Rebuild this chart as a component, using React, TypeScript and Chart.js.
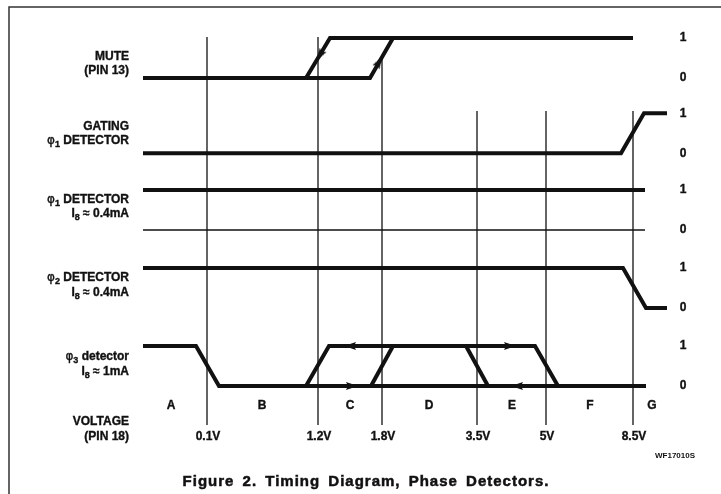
import { useEffect, useRef } from "react";
import { Chart, registerables } from "chart.js";

Chart.register(...registerables);

// ---------------- DATA ----------------
// Horizontal axis: position along the pin-18 voltage sweep (arbitrary sweep units).
const boundaryVolts = ["0.1V", "1.2V", "1.8V", "3.5V", "5V", "8.5V"];
const boundaryAt = [64, 175, 239, 334, 403, 490];
const regionNames = ["A", "B", "C", "D", "E", "F", "G"];
const regionAt = [28, 119, 207, 286, 369, 447, 509];
const levelTicks = ["0", "1"];

// Row captions (use "_" for a subscript character)
const rowCaptions: string[][] = [
  ["MUTE", "(PIN 13)"],
  ["GATING", "φ_1 DETECTOR"],
  ["φ_1 DETECTOR", "I_8 ≈ 0.4mA"],
  ["φ_2 DETECTOR", "I_8 ≈ 0.4mA"],
  ["φ_3 detector", "I_8 ≈ 1mA"],
];
const axisCaption = ["VOLTAGE", "(PIN 18)"];

// Logic traces: sweep position + logic level (0/1)
const muteUpX = [0, 227, 250];
const muteUpLvl = [0, 0, 1];
const muteDownX = [163, 187, 490];
const muteDownLvl = [0, 1, 1];
const gatingX = [0, 478, 501, 524];
const gatingLvl = [0, 0, 1, 1];
const phi1HighX = [0, 502];
const phi1HighLvl = [1, 1];
const phi1LowX = [0, 502];
const phi1LowLvl = [0, 0];
const phi2X = [0, 480, 503, 524];
const phi2Lvl = [1, 1, 0, 0];
const phi3MainX = [0, 53, 76, 503];
const phi3MainLvl = [1, 1, 0, 0];
const phi3LoopX = [163, 186, 392, 415];
const phi3LoopLvl = [0, 1, 1, 0];
const phi3RiseX = [228, 250];
const phi3RiseLvl = [0, 1];
const phi3FallX = [323, 345];
const phi3FallLvl = [1, 0];

// Direction arrows (row index, sweep position, level, heading in degrees)
const arrowRow = [0, 0, 4, 4, 4, 4];
const arrowX = [177, 236, 207, 209, 367, 374];
const arrowLvl = [0.57, 0.4, 1, 0, 1, 0];
const arrowDir = [210, 30, 270, 90, 90, 270];

// ---------------- LAYOUT ----------------
const X_MIN = 0;
const X_MAX = 524;
const Y_MIN = -0.975;
const Y_MAX = 8.725;
const ROW_BASE = [7.7, 5.82, 3.9, 1.95, 0];
const BOUNDARY_TOP = [8.725, 8.725, 8.2, 6.875, 6.875, 6.875];
const CAPTION_X = -14;
const CAPTION_Y = [
  [8.225, 7.875],
  [6.475, 6.125],
  [4.65, 4.3],
  [2.7, 2.325],
  [0.725, 0.35],
];
const AXIS_CAPTION_Y = [-0.9, -1.275];
const LEVEL_TICK_X = 540;
const REGION_Y = -0.5;
const VOLT_Y = -1.275;

const INK = "#111";
const BOLD = 'bold 12px "Liberation Sans", Arial, sans-serif';
const SUB = 'bold 9px "Liberation Sans", Arial, sans-serif';
const PHI = '12px "DejaVu Sans", sans-serif';

function pts(row: number, xs: number[], lv: number[]) {
  return xs.map((x, i) => ({ x, y: ROW_BASE[row] + lv[i] }));
}

function makeArrow() {
  const c = document.createElement("canvas");
  c.width = 8;
  c.height = 12;
  const g = c.getContext("2d")!;
  g.fillStyle = INK;
  g.beginPath();
  g.moveTo(4, 0);
  g.lineTo(8, 12);
  g.lineTo(4, 10);
  g.lineTo(0, 12);
  g.closePath();
  g.fill();
  return c;
}

type Seg = { t: string; f: string; dy: number };
function parseRich(s: string): Seg[] {
  const segs: Seg[] = [];
  let buf = "";
  const flush = () => {
    if (buf) segs.push({ t: buf, f: BOLD, dy: 0 });
    buf = "";
  };
  for (let i = 0; i < s.length; i++) {
    const ch = s[i];
    if (ch === "_" && i + 1 < s.length) {
      flush();
      segs.push({ t: s[i + 1], f: SUB, dy: 4 });
      i++;
    } else if (ch === "φ") {
      flush();
      segs.push({ t: ch, f: PHI, dy: 0 });
    } else buf += ch;
  }
  flush();
  return segs;
}

function ink(ctx: CanvasRenderingContext2D, t: string, x: number, y: number) {
  ctx.fillText(t, x, y);
  ctx.strokeText(t, x, y);
}

function drawRightAligned(ctx: CanvasRenderingContext2D, s: string, xr: number, y: number) {
  const segs = parseRich(s);
  let total = 0;
  const widths = segs.map((sg) => {
    ctx.font = sg.f;
    const w = ctx.measureText(sg.t).width;
    total += w;
    return w;
  });
  let x = xr - total;
  ctx.textAlign = "left";
  segs.forEach((sg, i) => {
    ctx.font = sg.f;
    ink(ctx, sg.t, x, y + sg.dy);
    x += widths[i];
  });
}

const textPlugin = {
  id: "timingText",
  beforeDraw(chart: any) {
    const ctx = chart.ctx as CanvasRenderingContext2D;
    ctx.save();
    ctx.fillStyle = "#fff";
    ctx.fillRect(0, 0, chart.width, chart.height);
    ctx.strokeStyle = "#333";
    ctx.lineWidth = 1.5;
    ctx.beginPath();
    ctx.moveTo(9, 494);
    ctx.lineTo(9, 7);
    ctx.lineTo(721, 7);
    ctx.stroke();
    ctx.restore();
  },
  afterDraw(chart: any) {
    const ctx = chart.ctx as CanvasRenderingContext2D;
    const xs = chart.scales.x;
    const ys = chart.scales.y;
    ctx.save();
    ctx.fillStyle = INK;
    ctx.strokeStyle = INK;
    ctx.lineWidth = 0.35;
    ctx.textBaseline = "middle";

    // row captions
    rowCaptions.forEach((lines, r) => {
      lines.forEach((ln, k) => {
        drawRightAligned(ctx, ln, xs.getPixelForValue(CAPTION_X), ys.getPixelForValue(CAPTION_Y[r][k]));
      });
    });
    axisCaption.forEach((ln, k) => {
      drawRightAligned(ctx, ln, xs.getPixelForValue(CAPTION_X), ys.getPixelForValue(AXIS_CAPTION_Y[k]));
    });

    // level ticks 1 / 0
    ctx.font = BOLD;
    ctx.textAlign = "center";
    ROW_BASE.forEach((b) => {
      levelTicks.forEach((t, lv) => {
        ink(ctx, t, xs.getPixelForValue(LEVEL_TICK_X), ys.getPixelForValue(b + lv));
      });
    });

    // regions
    regionNames.forEach((n, i) => {
      ink(ctx, n, xs.getPixelForValue(regionAt[i]), ys.getPixelForValue(REGION_Y));
    });
    // voltages
    boundaryVolts.forEach((v, i) => {
      ink(ctx, v, xs.getPixelForValue(boundaryAt[i]) + 1, ys.getPixelForValue(VOLT_Y));
    });

    // reference code
    ctx.font = 'bold 8px "Liberation Sans", Arial, sans-serif';
    ctx.fillText("WF17010S", 675, 456);

    // figure caption
    ctx.font = 'bold 15px "Liberation Sans", Arial, sans-serif';
    (ctx as any).letterSpacing = "1px";
    (ctx as any).wordSpacing = "3px";
    ctx.lineWidth = 0.5;
    ink(ctx, "Figure 2. Timing Diagram, Phase Detectors.", 366, 482);
    ctx.restore();
  },
};

export default function App() {
  const ref = useRef<HTMLCanvasElement>(null);
  useEffect(() => {
    const canvas = ref.current!;
    const arrow = makeArrow();
    const traceDefs = [
      { d: pts(0, muteUpX, muteUpLvl), w: 4 },
      { d: pts(0, muteDownX, muteDownLvl), w: 4 },
      { d: pts(1, gatingX, gatingLvl), w: 4 },
      { d: pts(2, phi1HighX, phi1HighLvl), w: 4 },
      { d: pts(2, phi1LowX, phi1LowLvl), w: 1.5 },
      { d: pts(3, phi2X, phi2Lvl), w: 4 },
      { d: pts(4, phi3MainX, phi3MainLvl), w: 4 },
      { d: pts(4, phi3LoopX, phi3LoopLvl), w: 4 },
      { d: pts(4, phi3RiseX, phi3RiseLvl), w: 4 },
      { d: pts(4, phi3FallX, phi3FallLvl), w: 4 },
    ];
    const datasets: any[] = [];
    boundaryAt.forEach((bx, i) => {
      datasets.push({
        data: [
          { x: bx, y: Y_MIN },
          { x: bx, y: BOUNDARY_TOP[i] },
        ],
        showLine: true,
        borderColor: INK,
        borderWidth: 1.3,
        pointRadius: 0,
        clip: false,
        order: 10,
      });
    });
    traceDefs.forEach((t) => {
      datasets.push({
        data: t.d,
        showLine: true,
        borderColor: INK,
        borderWidth: t.w,
        borderCapStyle: "butt",
        borderJoinStyle: "miter",
        pointRadius: 0,
        clip: false,
        order: 5,
      });
    });
    datasets.push({
      data: arrowX.map((x, i) => ({ x, y: ROW_BASE[arrowRow[i]] + arrowLvl[i] })),
      showLine: false,
      pointStyle: arrow,
      pointRadius: 5,
      rotation: (c: any) => arrowDir[c.dataIndex],
      clip: false,
      order: 0,
    });

    const chart = new Chart(canvas, {
      type: "scatter",
      data: { datasets },
      options: {
        animation: false,
        responsive: false,
        events: [],
        layout: { padding: { left: 143, right: 54, top: 37, bottom: 69 } },
        scales: {
          x: { type: "linear", min: X_MIN, max: X_MAX, display: false },
          y: { type: "linear", min: Y_MIN, max: Y_MAX, display: false },
        },
        plugins: { legend: { display: false }, tooltip: { enabled: false } },
      },
      plugins: [textPlugin],
    });
    return () => chart.destroy();
  }, []);
  return (
    <div style={{ position: "absolute", left: 0, top: 0, width: 721, height: 494, background: "#fff" }}>
      <canvas ref={ref} width={721} height={494} style={{ display: "block" }} />
    </div>
  );
}
